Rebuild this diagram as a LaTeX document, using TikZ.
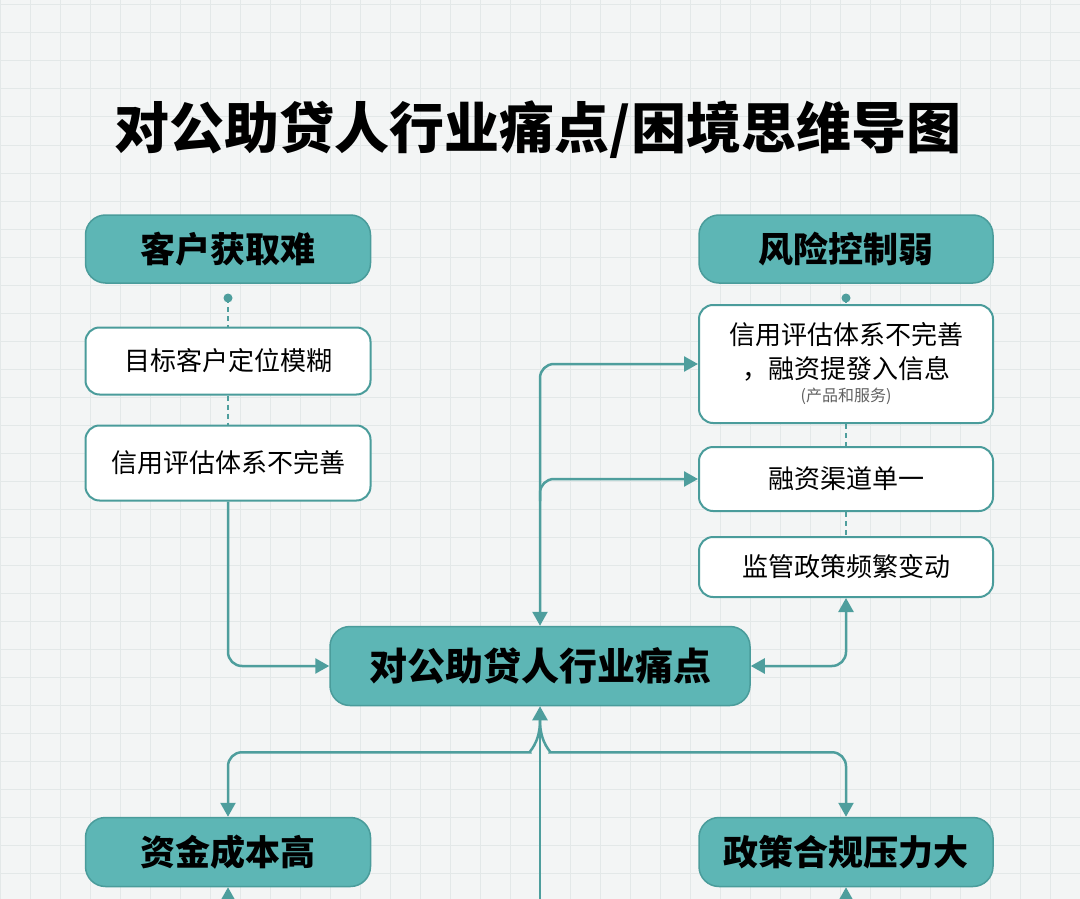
\documentclass[tikz,border=0pt]{standalone}
\usepackage{fontspec}
\setmainfont{Noto Sans CJK SC}
\usetikzlibrary{arrows.meta,calc}
\definecolor{bgc}{HTML}{F3F5F5}
\definecolor{gridc}{HTML}{E3E8E8}
\definecolor{tealf}{HTML}{5DB6B5}
\definecolor{teald}{HTML}{4A9C9B}
\definecolor{linec}{HTML}{4E9E9D}
\definecolor{faint}{HTML}{606060}
\tikzset{
  mainbox/.style={draw=teald, line width=1.5pt, fill=tealf, rounded corners=20pt,
    font=\bfseries\fontsize{35}{40}\selectfont, text=black, inner sep=0pt},
  subbox/.style={draw=teald, line width=2pt, fill=white, rounded corners=14pt,
    font=\fontsize{26}{37}\selectfont, align=center, inner sep=0pt, text=black},
  conn/.style={draw=linec, line width=2.5pt, rounded corners=14pt},
  tip/.style={-{Triangle[width=15pt,length=14pt]}},
  bothtip/.style={{Triangle[width=15pt,length=14pt]}-{Triangle[width=15pt,length=14pt]}},
  dashc/.style={draw=linec, line width=2.2pt, dash pattern=on 5pt off 4pt},
}
\begin{document}
\begin{tikzpicture}[x=1pt,y=-1pt]
\useasboundingbox (0,0) rectangle (1080,899);
\clip (0,0) rectangle (1080,899);
\fill[bgc] (0,0) rectangle (1080,899);
\foreach \x in {0,30,...,1080} \draw[gridc, line width=1pt] (\x,0) -- (\x,899);
\foreach \y in {5,33,...,899} \draw[gridc, line width=1pt] (0,\y) -- (1080,\y);

% title
\node[font=\bfseries\fontsize{55}{60}\selectfont, text=black] (title) at (538,130) {对公助贷人行业痛点/困境思维导图};

% main nodes
\node[mainbox, minimum width=285pt, minimum height=68pt] (A) at (228,249) {客户获取难};
\node[mainbox, minimum width=294pt, minimum height=68pt] (B) at (846,249) {风险控制弱};
\node[mainbox, minimum width=420pt, minimum height=79pt, font=\bfseries\fontsize{38}{42}\selectfont] (C) at (540,666) {对公助贷人行业痛点};
\node[mainbox, minimum width=285pt, minimum height=69pt] (D) at (228,852) {资金成本高};
\node[mainbox, minimum width=294pt, minimum height=69pt] (E) at (846,852) {政策合规压力大};

% sub nodes
\node[subbox, minimum width=285pt, minimum height=67pt] (a1) at (228,361) {目标客户定位模糊};
\node[subbox, minimum width=285pt, minimum height=75pt] (a2) at (228,463) {信用评估体系不完善};
\node[subbox, minimum width=294pt, minimum height=118pt] (b1) at (846,364)
  {信用评估体系不完善\\[-3pt]，融资提發入信息\\[-14pt]{\fontsize{16}{18}\selectfont\color{faint}(产品和服务)}};
\node[subbox, minimum width=294pt, minimum height=64pt] (b2) at (846,479) {融资渠道单一};
\node[subbox, minimum width=294pt, minimum height=60pt] (b3) at (846,567) {监管政策频繁变动};

% dots
\coordinate (da) at (228,298);
\coordinate (db) at (846,298);
\fill[linec] (da) circle (4.5pt);
\fill[linec] (db) circle (4.5pt);

% dashed links
\draw[dashc] (da) -- (a1.north);
\draw[dashc] (a1.south) -- (a2.north);
\draw[dashc] (db) -- (b1.north);
\draw[dashc] (b1.south) -- (b2.north);
\draw[dashc] (b2.south) -- (b3.north);

% left to central
\draw[conn,tip] (a2.south) |- (C.west);
% central to right column
\draw[conn,bothtip] (C.east) -| (b3.south);
% trunk up
\draw[conn,bothtip] (b1.west) -| (C.north);
\draw[conn,tip] ($(C.north|-b2.west)+(0,22)$) |- (b2.west);

% bottom trunk
\coordinate (bot) at (540,915);
\draw[conn,tip] (bot) -- (C.south);
\draw[conn,tip] ($(C.south)+(0,14)$) .. controls +(0,24) and +(12,0) .. ++(-24,32) -| (D.north);
\draw[conn,tip] ($(C.south)+(0,14)$) .. controls +(0,24) and +(-12,0) .. ++(24,32) -| (E.north);

% arrows from below into bottom boxes
\coordinate (dl) at (228,930);
\coordinate (el) at (846,930);
\draw[conn,tip] (dl) -- (D.south);
\draw[conn,tip] (el) -- (E.south);
\end{tikzpicture}
\end{document}
